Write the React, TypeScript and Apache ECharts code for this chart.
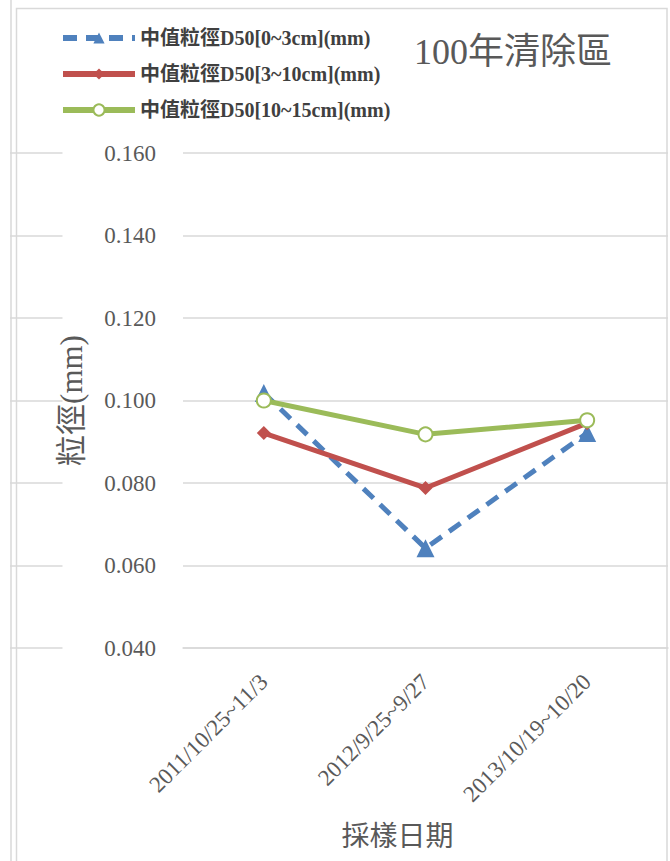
import React, { useEffect, useRef } from "react";
import * as echarts from "echarts";

// Sampling periods (x categories)
const periods = ["2011/10/25~11/3", "2012/9/25~9/27", "2013/10/19~10/20"];

// Median grain size D50 (mm) per size class
const d50Fine = [0.1018, 0.0642, 0.0921];   // 0~3cm
const d50Mid = [0.0921, 0.0788, 0.0945];    // 3~10cm
const d50Coarse = [0.1, 0.0918, 0.0952];    // 10~15cm

const seriesNames = [
  "中值粒徑D50[0~3cm](mm)",
  "中值粒徑D50[3~10cm](mm)",
  "中值粒徑D50[10~15cm](mm)",
];

const yMin = 0.04;
const yMax = 0.16;
const yStep = 0.02;

const chartTitle = "100年清除區";
const xName = "採樣日期";
const yName = "粒徑(mm)";

const FONT = '"Liberation Serif", "Times New Roman", "Noto Sans CJK TC", serif';
const TEXT = "#595959";
const GRID = "#d9d9d9";

export default function App() {
  const ref = useRef<HTMLDivElement>(null);

  useEffect(() => {
    if (!ref.current) return;
    const chart = echarts.init(ref.current, undefined, { renderer: "svg" });

    const yAxisBase = {
      type: "value" as const,
      min: yMin,
      max: yMax,
      interval: yStep,
      axisLine: { show: false },
      axisTick: { show: false },
      splitLine: { show: true, lineStyle: { color: GRID, width: 1.5 } },
    };

    chart.setOption({
      animation: false,
      backgroundColor: "#ffffff",
      textStyle: { fontFamily: FONT },
      title: {
        text: chartTitle,
        left: 409,
        top: 29,
        textStyle: {
          fontFamily: FONT,
          fontSize: 36,
          fontWeight: "normal",
          color: TEXT,
        },
      },
      legend: {
        orient: "vertical",
        left: 55,
        top: 23,
        itemWidth: 72,
        itemHeight: 14,
        itemGap: 16,
        data: seriesNames,
        lineStyle: { width: 6 },
        textStyle: {
          fontFamily: FONT,
          fontSize: 20,
          fontWeight: "bold",
          color: "#404040",
        },
      },
      grid: [
        { left: 183, top: 153, width: 485, bottom: 213, containLabel: false },
        // neighbouring panel's grid, only its right edge is visible
        { left: -200, top: 153, width: 210, bottom: 213, containLabel: false },
      ],
      xAxis: [
        {
          type: "category",
          gridIndex: 0,
          data: periods,
          boundaryGap: true,
          axisLine: { show: true, lineStyle: { color: GRID, width: 1.5 } },
          axisTick: { show: false },
          axisLabel: {
            rotate: 45,
            margin: 30,
            fontFamily: FONT,
            fontSize: 23,
            color: TEXT,
          },
          name: xName,
          nameLocation: "middle",
          nameGap: 174,
          nameTextStyle: {
            fontFamily: FONT,
            fontSize: 28,
            color: TEXT,
            padding: [0, 56, 0, 0],
          },
        },
        {
          type: "category",
          gridIndex: 1,
          data: periods,
          show: false,
        },
      ],
      yAxis: [
        {
          ...yAxisBase,
          gridIndex: 0,
          axisLabel: {
            margin: 27,
            fontFamily: FONT,
            fontSize: 23,
            color: TEXT,
            formatter: (v: number) => v.toFixed(3),
          },
          name: yName,
          nameLocation: "middle",
          nameGap: 96,
          nameTextStyle: {
            fontFamily: FONT,
            fontSize: 31,
            color: TEXT,
          },
        },
        {
          ...yAxisBase,
          gridIndex: 1,
          axisLabel: { show: false },
        },
      ],
      graphic: [
        {
          type: "rect",
          shape: { x: 16.5, y: 8.5, width: 650.5, height: 900 },
          style: { fill: "none", stroke: GRID, lineWidth: 1.5 },
          silent: true,
          z: 100,
        },
        {
          type: "line",
          shape: { x1: 11, y1: 0, x2: 11, y2: 861 },
          style: { stroke: GRID, lineWidth: 1.5 },
          silent: true,
          z: 100,
        },
      ],
      series: [
        {
          name: seriesNames[0],
          type: "line",
          xAxisIndex: 0,
          yAxisIndex: 0,
          data: d50Fine,
          symbol: "triangle",
          symbolSize: 18,
          lineStyle: { color: "#4F81BD", width: 5, type: [14, 9] },
          itemStyle: { color: "#4F81BD" },
          z: 2,
        },
        {
          name: seriesNames[1],
          type: "line",
          xAxisIndex: 0,
          yAxisIndex: 0,
          data: d50Mid,
          symbol: "diamond",
          symbolSize: 14,
          lineStyle: { color: "#C0504D", width: 5 },
          itemStyle: { color: "#C0504D" },
          z: 3,
        },
        {
          name: seriesNames[2],
          type: "line",
          xAxisIndex: 0,
          yAxisIndex: 0,
          data: d50Coarse,
          symbol: "emptyCircle",
          symbolSize: 14,
          lineStyle: { color: "#9BBB59", width: 5 },
          itemStyle: { color: "#9BBB59", borderWidth: 2 },
          z: 4,
        },
      ],
    });

    return () => chart.dispose();
  }, []);

  return (
    <div
      ref={ref}
      style={{ position: "fixed", left: 0, top: 0, width: 670, height: 861, background: "#fff" }}
    />
  );
}
